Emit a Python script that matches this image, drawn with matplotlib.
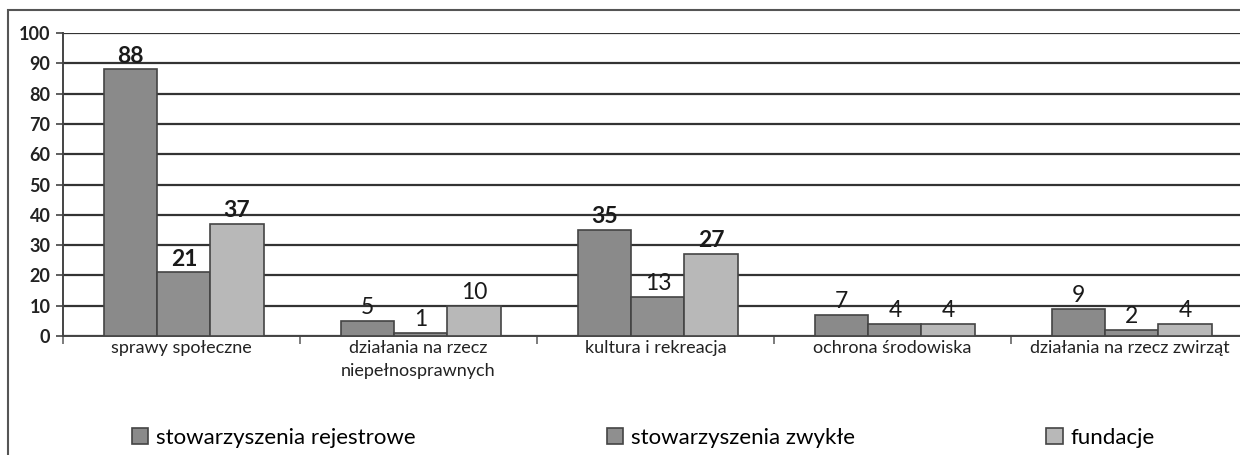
import numpy as np
import matplotlib.pyplot as plt
from matplotlib.patches import Rectangle

# Data.
categories = ['sprawy społeczne', 'działania na rzecz\nniepełnosprawnych',
              'kultura i rekreacja', 'ochrona środowiska',
              'działania na rzecz zwirząt']
series_names = ['stowarzyszenia rejestrowe', 'stowarzyszenia zwykłe',
                'fundacje']
rejestrowe = [88, 5, 35, 7, 9]
zwykle = [21, 1, 13, 4, 2]
fundacje = [37, 10, 27, 4, 4]
yticks = [0, 10, 20, 30, 40, 50, 60, 70, 80, 90, 100]

plt.rcParams['font.family'] = ['Lato', 'DejaVu Sans']

W, H = 1240, 455
fig = plt.figure(figsize=(W / 100, H / 100), dpi=100)

# Outer chart frame, cut off at right and bottom like in the scan.
fig.patches.append(Rectangle((8 / W, -0.1), 1.2, (H - 10) / H + 0.1,
                             transform=fig.transFigure, fill=False,
                             edgecolor='#555555', linewidth=1.5))

left, right, y0, y100 = 63, 1248, 336, 33
ax = fig.add_axes([left / W, (H - y0) / H, (right - left) / W,
                   (y0 - y100) / H])

x = np.arange(len(categories))
width = 0.224
colors = ['#8a8a8a', '#8f8f8f', '#b8b8b8']
all_series = [rejestrowe, zwykle, fundacje]

bars = []
for i, vals in enumerate(all_series):
    b = ax.bar(x + (i - 1) * width + 0.01, vals, width, color=colors[i],
               edgecolor='#444444', linewidth=1.2, zorder=3,
               label=series_names[i])
    bars.append(b)
    for rect, v in zip(b, vals):
        ax.annotate(str(v), (rect.get_x() + rect.get_width() / 2, v),
                    xytext=(0, 2), textcoords='offset points',
                    ha='center', va='bottom', fontsize=16.5,
                    fontweight='bold' if v >= 20 else 'normal',
                    color='#1a1a1a', zorder=4)

ax.set_ylim(0, 100)
ax.set_xlim(-0.5, len(categories) - 0.5)
ax.set_yticks(yticks)
ax.tick_params(axis='y', labelsize=13, length=5, width=1.2, pad=4,
               color='#444444', labelcolor='#222222')
for lab in ax.get_yticklabels():
    lab.set_fontweight('bold')
ax.yaxis.grid(True, color='#333333', linewidth=1.6, zorder=1)

# Category ticks between groups, labels centred under groups.
ax.set_xticks(np.arange(len(categories) + 1) - 0.5)
ax.set_xticklabels([])
ax.tick_params(axis='x', length=6, width=1.2, color='#666666')
ax.set_xticks(x, minor=True)
ax.set_xticklabels(categories, minor=True, fontsize=13, color='#222222',
                   linespacing=1.55)
ax.tick_params(axis='x', which='minor', length=0, pad=3)

for s in ['top', 'right']:
    ax.spines[s].set_visible(False)
ax.spines['left'].set_color('#444444')
ax.spines['left'].set_linewidth(1.4)
ax.spines['bottom'].set_color('#444444')
ax.spines['bottom'].set_linewidth(1.4)

fig.legend(handles=bars, labels=series_names, loc='center left',
           bbox_to_anchor=(116 / W, (H - 438) / H), ncol=3, frameon=False,
           fontsize=16, columnspacing=8.6, handlelength=0.75,
           handleheight=0.75, handletextpad=0.35, borderpad=0.2)

fig.savefig('out.png', dpi=100)
